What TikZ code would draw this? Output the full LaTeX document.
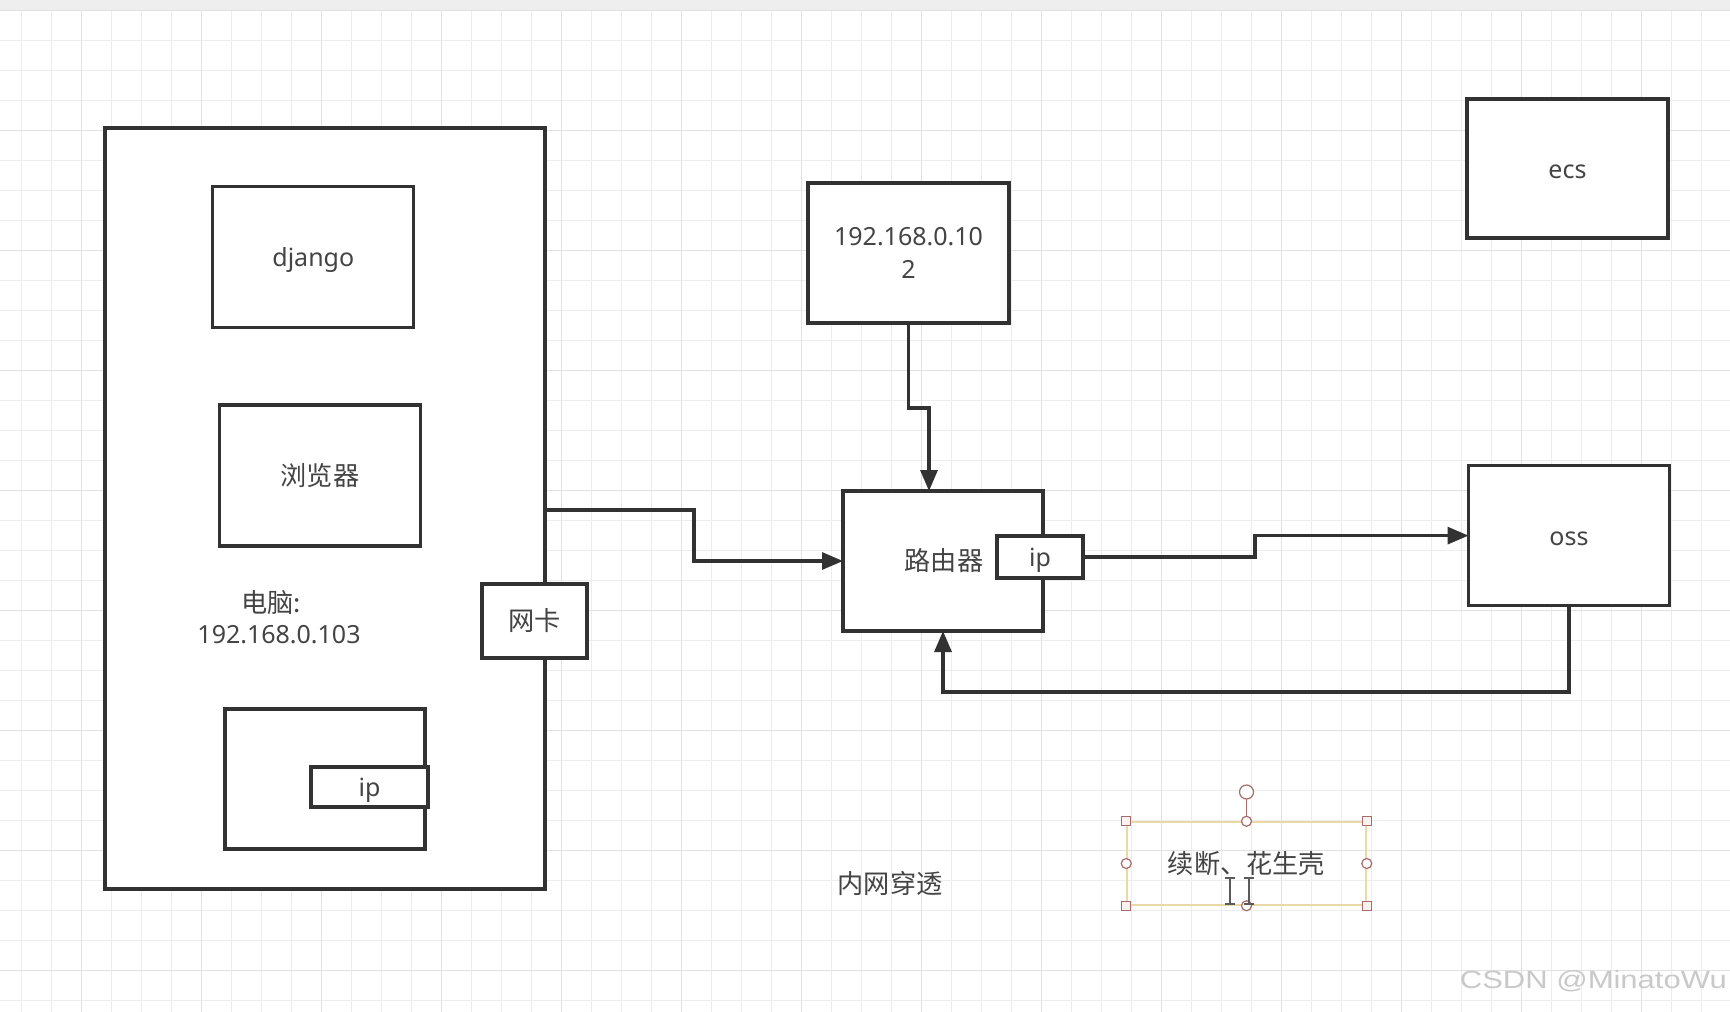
\documentclass[tikz,border=0pt]{standalone}
\usepackage{fontspec}
\setmainfont{Noto Sans}
\newfontfamily\cjk{Noto Sans CJK SC}
\newfontfamily\wmfont{Liberation Sans}
\newcommand\zhtxt[1]{{\cjk\fontsize{26.2}{33}\selectfont #1}}
\usetikzlibrary{arrows.meta,calc}
\definecolor{ln}{HTML}{323232}
\definecolor{tx}{HTML}{444444}
\definecolor{gridminor}{HTML}{EDEDED}
\definecolor{gridmajor}{HTML}{E1E1E1}
\definecolor{topbar}{HTML}{EEEEEE}
\definecolor{selline}{HTML}{E9D9A6}
\definecolor{handle}{HTML}{A86A6A}
\definecolor{handlefill}{HTML}{FBF1EE}
\definecolor{wm}{HTML}{C9C9C9}
\definecolor{cursor}{HTML}{5A5A5A}
\begin{document}
\begin{tikzpicture}[x=1pt,y=-1pt,
  box/.style={draw=ln, line width=3.2pt, fill=white, rectangle, inner sep=0pt, outer sep=0pt,
    text=tx, font=\fontsize{25}{33}\selectfont, align=center},
  oneline/.style={text height=24pt, text depth=5pt},
  lbl/.style={text=tx, font=\fontsize{25}{33}\selectfont, inner sep=0pt},
  arr/.style={draw=ln, line width=3.2pt, line join=miter, -{Triangle[length=21pt,width=17pt]}},
  sqh/.style={draw=handle, fill=handlefill, line width=1.2pt, rectangle, minimum size=9pt, inner sep=0pt},
  cih/.style={draw=handle, fill=white, line width=1.2pt, circle, minimum size=10pt, inner sep=0pt},
  ibeam/.style={draw=cursor, line width=2pt}
]
\useasboundingbox (0,0) rectangle (1730,1012);
\fill[white] (0,0) rectangle (1730,1012);
\fill[topbar] (0,0) rectangle (1730,10);
% grid
\foreach \k in {0,...,56} \draw[gridminor, line width=1pt] ({21.7+30*\k},10) -- ({21.7+30*\k},1012);
\foreach \k in {0,...,33} \draw[gridminor, line width=1pt] (0,{10.7+30*\k}) -- (1730,{10.7+30*\k});
\foreach \k in {0,...,13} \draw[gridmajor, line width=1pt] ({81.7+120*\k},10) -- ({81.7+120*\k},1012);
\foreach \k in {0,...,8} \draw[gridmajor, line width=1pt] (0,{10.7+120*\k}) -- (1730,{10.7+120*\k});

% computer
\node[box, minimum width=440pt, minimum height=761pt] (pc) at (325,508.5) {};
\node[box, oneline, minimum width=201pt, minimum height=141pt] (django) at (313.3,257) {django};
\node[box, oneline, minimum width=201pt, minimum height=141pt] (browser) at (320,475.5) {\zhtxt{浏览器}};
\node[lbl] (pclabel) at (271,603) {\zhtxt{电脑:}};
\node[lbl] (pcip) at (279,635) {192.168.0.103};
\node[box, minimum width=200pt, minimum height=140pt] (inner) at (325,779) {};
\node[box, oneline, minimum width=117pt, minimum height=40pt] (innerip) at (369.5,787) {ip};
\node[box, oneline, minimum width=105pt, minimum height=74pt] (nic) at (534.5,621) {\zhtxt{网卡}};

% other boxes
\node[box, minimum width=201pt, minimum height=140pt] (ip102) at (908.5,253) {192.168.0.10\\2};
\node[box, oneline, minimum width=200pt, minimum height=140pt] (router) at (943,561) {\hspace*{2pt}\zhtxt{路由器}};
\node[box, oneline, minimum width=86pt, minimum height=42pt] (rip) at (1040,557) {ip};
\node[box, oneline, minimum width=201pt, minimum height=139pt] (ecs) at (1567.5,168.5) {ecs};
\node[box, oneline, minimum width=201pt, minimum height=140pt] (oss) at (1569,535.6) {oss};

% connectors
\draw[arr] (pc.east |- 0,510) -- (694,510) |- (router.west);
\draw[arr] (ip102.south) -- (ip102.south |- 0,408) -| ([xshift=-14pt]router.north);
\draw[arr] (rip.east) -| (1255,535.6) -- (oss.west);
\draw[arr] (oss.south) -- (oss.south |- 0,692) -| (router.south);

% free labels
\node[lbl] (nat) at (890,883) {\zhtxt{内网穿透}};

% selected text box
\node[draw=selline, line width=1.5pt, rectangle, minimum width=239pt, minimum height=83pt,
  inner sep=0pt, text=tx] (sel) at (1246.5,863.5) {\zhtxt{续断、花生壳}};
\draw[handle, line width=1.2pt] (sel.north) -- (1246.5,799);
\node[cih, minimum size=14pt] (rot) at (1246.5,792) {};
\node[sqh] (h1) at (sel.north west) {};
\node[sqh] (h2) at (sel.north east) {};
\node[sqh] (h3) at (sel.south west) {};
\node[sqh] (h4) at (sel.south east) {};
\node[cih] (h5) at (sel.north) {};
\node[cih] (h6) at (sel.west) {};
\node[cih] (h7) at (sel.east) {};
\node[cih] (h8) at (sel.south) {};
% text cursors
\draw[ibeam] (1230,878) -- (1230,904) (1225,878) -- (1235,878) (1225,904) -- (1235,904);
\draw[ibeam] (1249,878) -- (1249,904) (1244,878) -- (1254,878) (1244,904) -- (1254,904);

% watermark
\node[anchor=base east, inner sep=0pt, text=wm, font=\wmfont\fontsize{25}{25}\selectfont] (wmark) at (1727,988) {\scalebox{1.24}[1]{CSDN @MinatoWu}};
\end{tikzpicture}
\end{document}
